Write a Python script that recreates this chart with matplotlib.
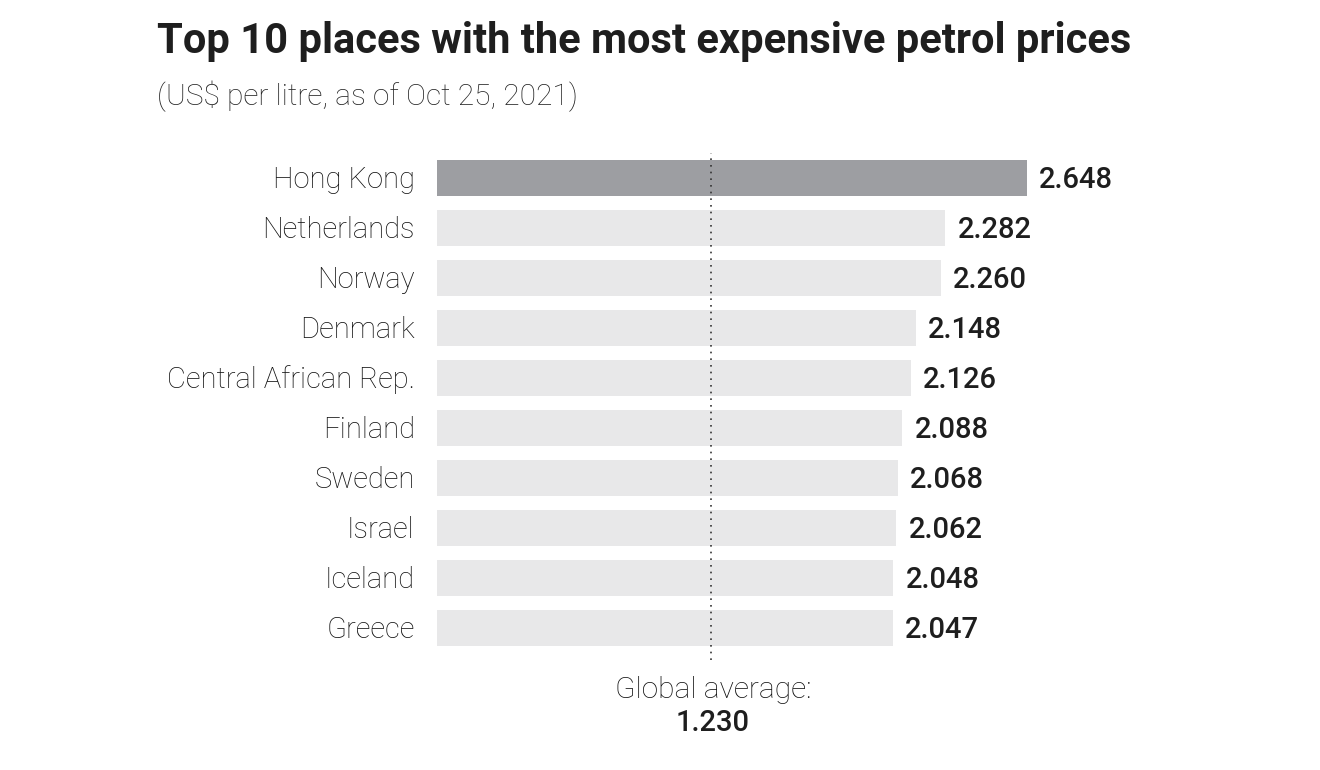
import matplotlib.pyplot as plt

# data
places = ["Hong Kong", "Netherlands", "Norway", "Denmark", "Central African Rep.",
          "Finland", "Sweden", "Israel", "Iceland", "Greece"]
prices = [2.648, 2.282, 2.260, 2.148, 2.126, 2.088, 2.068, 2.062, 2.048, 2.047]
global_avg = 1.230

plt.rcParams['font.family'] = ['Roboto', 'DejaVu Sans']
txt = "#1e1e1e"

fig = plt.figure(figsize=(13.2, 7.7), dpi=100)
ax = fig.add_axes([437/1320, 1 - 660/770, (1027 - 437)/1320, 507/770])

colors = ["#9d9ea2"] + ["#e8e8e9"] * (len(places) - 1)
ypos = list(range(len(places)))
ax.barh(ypos, prices, height=0.72, color=colors, zorder=1)
ax.axvline(global_avg, color="#333333", lw=1.2, ls=(0, (1, 3)), zorder=3)

ax.set_xlim(0, prices[0])
ax.set_ylim(9.64, -0.5)
ax.axis("off")

for y, (p, v) in enumerate(zip(places, prices)):
    ax.text(-0.1, y + 0.04, p, ha="right", va="center", fontsize=21, fontweight="light",
            color="#111111", clip_on=False)
    ax.text(v + 0.055, y + 0.05, f"{v:.3f}", ha="left", va="center", fontsize=21,
            fontweight="medium", color=txt, clip_on=False)

fig.text(713/1320, 1 - 690/770, "Global average:", ha="center", va="center",
         fontsize=21.5, fontweight="light", color="#111111")
fig.text(713/1320, 1 - 723/770, f"{global_avg:.3f}", ha="center", va="center",
         fontsize=21, fontweight="medium", color=txt)

fig.text(157/1320, 1 - 42/770, "Top 10 places with the most expensive petrol prices",
         ha="left", va="center", fontsize=30, fontweight="bold", color=txt)
fig.text(157/1320, 1 - 96/770, "(US$ per litre, as of Oct 25, 2021)",
         ha="left", va="center", fontsize=21.5, fontweight="light", color="#222222")

fig.savefig("out.png", dpi=100, facecolor="white")
